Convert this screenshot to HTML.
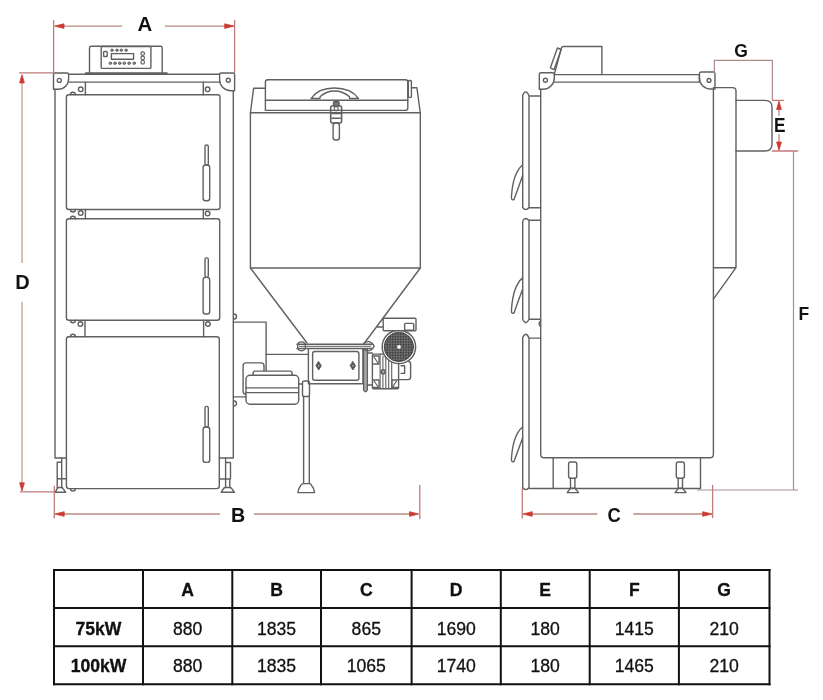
<!DOCTYPE html>
<html><head><meta charset="utf-8">
<style>
html,body{margin:0;padding:0;background:#fff;width:823px;height:700px;overflow:hidden}
svg{display:block;position:absolute;left:0;top:0;will-change:transform}
</style></head><body>
<svg width="823" height="700" viewBox="0 0 823 700">
<rect x="0" y="0" width="823" height="700" fill="#fff"/>

<!-- ================= FRONT VIEW BOILER ================= -->
<g fill="none" stroke="#606060" stroke-width="1.4" stroke-linejoin="round" stroke-linecap="round">
  <!-- control panel -->
  <path d="M89.5,72.5 V48 Q89.5,46.3 91.2,46.3 H160.5 Q162.2,46.3 162.2,48 V72.5"/>
  <rect x="101.2" y="46.5" width="49.7" height="21.9" rx="1"/>
  <rect x="103.6" y="51.5" width="3.6" height="5" rx="0.8"/>
  <rect x="111.4" y="53.6" width="22.2" height="5.7"/>
  <g stroke-width="0.9" fill="#8a8a8a">
  <circle cx="112" cy="50.2" r="1.2"/><circle cx="116.9" cy="50.2" r="1.2"/><circle cx="121.3" cy="50.2" r="1.2"/><circle cx="126.1" cy="50.2" r="1.2"/>
  <circle cx="110.4" cy="63.2" r="1.3"/><circle cx="115" cy="63.2" r="1.3"/><circle cx="119.7" cy="63.2" r="1.3"/><circle cx="124.3" cy="63.2" r="1.3"/><circle cx="129.1" cy="63.2" r="1.3"/><circle cx="134.2" cy="63.2" r="1.3"/>
  <circle cx="142.7" cy="53.6" r="1.8" fill="#fff" stroke-width="1.2"/><circle cx="142.7" cy="58" r="1.8" fill="#fff" stroke-width="1.2"/><circle cx="142.7" cy="62.3" r="1.8" fill="#fff" stroke-width="1.2"/>
  </g>
  <path d="M86,73.5 H166.6" stroke-width="2.4"/>

  <!-- top bar -->
  <path d="M68.6,74.3 H219.6 M68.6,82.1 H219.6"/>
  <!-- left bracket -->
  <path d="M53.5,89.3 V74.5 Q53.5,73 55,73 H67 Q68.6,73 68.6,74.5 V79 A10.3,10.3 0 0 1 58.3,89.3 Z"/>
  <circle cx="59.3" cy="80.4" r="2"/>
  <!-- right bracket -->
  <path d="M234.6,90.7 V74.5 Q234.6,73 233.1,73 H221.2 Q219.6,73 219.6,74.5 V79.5 A11.2,11.2 0 0 0 230.8,90.7 Z"/>
  <circle cx="228.3" cy="80.3" r="2"/>
  <!-- frame columns -->
  <path d="M55,89.3 V458 H66.4"/>
  <path d="M233.3,90.7 V458 H219.3"/>
  <!-- hinge blocks -->
  <path d="M85.4,82.1 V94.7 M203.3,82.1 V94.7"/>
  <circle cx="80.7" cy="89.3" r="2.3"/><circle cx="207.6" cy="89.3" r="2.3"/>
  <path d="M85.4,209.5 V218.8 M203.3,209.5 V218.8"/>
  <circle cx="80.7" cy="213" r="2.3"/><circle cx="207.6" cy="213.6" r="2.3"/>
  <path d="M85,320.3 V336.8 M203.6,320.3 V336.8"/>
  <circle cx="80.4" cy="324" r="2.3"/><circle cx="207.9" cy="324" r="2.3"/>
  <!-- hinge bumps -->
  <path d="M70.4,94.7 A2.5,2.5 0 0 1 75.4,94.7 M70.4,209.5 A2.5,2.5 0 0 0 75.4,209.5 M70.4,218.8 A2.5,2.5 0 0 1 75.4,218.8 M70.4,320.3 A2.5,2.5 0 0 0 75.4,320.3 M70.4,336.8 A2.5,2.5 0 0 1 75.4,336.8 M70.4,488.6 A2.5,2.5 0 0 0 75.4,488.6"/>
  <!-- doors -->
  <rect x="66.4" y="94.7" width="153.6" height="114.8" rx="2.5"/>
  <rect x="66.4" y="218.8" width="153.3" height="101.5" rx="2.5"/>
  <rect x="66.4" y="336.8" width="152.9" height="151.8" rx="2.5"/>
  <!-- handles -->
  <rect x="205" y="145" width="3.3" height="20" rx="1.6"/>
  <rect x="203.1" y="165" width="6.6" height="35.7" rx="2.5"/>
  <rect x="205" y="257.9" width="3.3" height="19.5" rx="1.6"/>
  <rect x="203.1" y="277.4" width="6.6" height="36.6" rx="2.5"/>
  <rect x="205" y="406.4" width="3.3" height="20.6" rx="1.6"/>
  <rect x="203.1" y="427" width="6.6" height="35.4" rx="2.5"/>
  <!-- feet -->
  <path d="M61.7,458 V487.5 M57.2,487.5 V462.3 H61.7 M57.2,478.8 H66.2"/>
  <path d="M55.2,492.3 L57.3,488.3 Q57.8,487.5 58.6,487.5 H61.5 Q62.4,487.5 62.9,488.3 L65.8,492.3 Z"/>
  <path d="M225.6,458 V487.5 M229.8,479 V487.5 M225.6,462.5 H230.5 V478 M219.5,479 H230.5"/>
  <path d="M221.1,492.3 L223.6,488.5 Q224.3,487.5 225.5,487.5 H229.8 Q231,487.5 231.7,488.5 L234.5,492.3 Z"/>
</g>

<!-- ================= HOPPER ================= -->
<g fill="none" stroke="#606060" stroke-width="1.4" stroke-linejoin="round" stroke-linecap="round">
  <path d="M265.4,88.3 H253.6 L250.4,113 V268 L307,343 M412.3,87.7 H416.9 Q418.5,100 420.3,113 V268 L364.5,343"/>
  <path d="M250.4,112.8 H420.3 M250.4,268 H420.3"/>
  <path d="M265.4,110.4 V82 Q265.4,79.7 267.7,79.7 H405.5 Q407.8,79.7 407.8,82 V108 Q407.8,110.4 405.5,110.4 H265.4" />
  <path d="M265.4,100.2 H407.8"/>
  <rect x="408.3" y="80.5" width="3.1" height="16.9" rx="1"/>
  <!-- handle arch -->
  <path d="M311,98.5 Q318,88 334.5,88 Q351,88 358.5,98.5 H349.5 V96.8 Q343,91 334.5,91 Q326,91 320,96.8 V98.5 Z" stroke-width="1.3"/>
  <!-- latch -->
  <rect x="333.5" y="101.8" width="5.6" height="4" rx="0.8" fill="#777"/>
  <path d="M332,106 H340.4 Q341.6,106 341.6,108 V121 Q341.6,123 340,123 H332.3 Q330.7,123 330.7,121 V108 Q330.7,106 332,106 Z" stroke-width="1.6"/>
  <circle cx="336.2" cy="108.8" r="2" stroke-width="1.1"/>
  <path d="M332,113.6 H340.3 M332,118.3 H340.3" stroke-width="1.4"/>
  <rect x="333.1" y="123" width="6.3" height="17" rx="2.5"/>
</g>

<!-- ================= FEEDER ================= -->
<defs>
  <pattern id="mesh" x="0" y="0" width="1.6" height="1.6" patternUnits="userSpaceOnUse">
    <rect x="0" y="0" width="1.6" height="1.6" fill="#808080"/>
    <rect x="0" y="0" width="1.1" height="1.1" fill="#333"/>
  </pattern>
</defs>
<g fill="none" stroke="#606060" stroke-width="1.4" stroke-linejoin="round" stroke-linecap="round">
  <path d="M233.3,322.1 H266.1 V371.4"/>
  <path d="M266.1,354.4 H308.4"/>
  <path d="M234,314 a2.4,2.4 0 0 1 0,5 M234,401 a2.4,2.4 0 0 1 0,5"/>
  <!-- housing -->
  <path d="M308.4,348.6 V383.8 H362.9 V348.6"/>
  <rect x="312.6" y="351.5" width="46.3" height="28.8" rx="2.2"/>
  <path d="M318.7,361.6 L321.3,365.8 L318.7,370 L316.1,365.8 Z M352.9,361.6 L355.5,365.8 L352.9,370 L350.3,365.8 Z" fill="#555" stroke-width="1"/>
  <circle cx="318.7" cy="365.8" r="0.8" fill="#ccc" stroke="none"/>
  <circle cx="352.9" cy="365.8" r="0.8" fill="#ccc" stroke="none"/>
  <!-- vertical flange rod -->
  <path d="M363.6,349 V390 Q365.5,393.5 367.4,390 V349" fill="#a8a8a8" stroke-width="1.3"/>
  <path d="M367.2,353 H372.4 M367.2,385 H372.4"/>
  <!-- pipe -->
  <path d="M297,344.2 H372 M297,348.5 H372" stroke-width="1.6"/>
  <path d="M299,346.3 H371" stroke-width="1"/>
  <path d="M297.5,346.3 Q297.5,341.8 301.5,341.8 Q305.5,341.8 305.5,346.3 Q305.5,350.8 301.5,350.8 Q297.5,350.8 297.5,346.3 Z" stroke-width="1.3"/>
  <path d="M363.5,343.5 Q366,341.5 369,341.7 Q372.5,342.5 374.3,346.3 Q372.5,350 369,350.8 Q366,351 363.5,349" stroke-width="1.3"/>
  <!-- gearbox -->
  <rect x="372.4" y="354.1" width="26.2" height="34.7" rx="1"/>
  <path d="M380.1,354.1 V388.8 M382.9,356 V388.8 M385.8,356 V388.8 M388.7,356 V388.8 M391.7,356 V388.8" stroke-width="1.1"/>
  <path d="M373.5,356 H379 V364 H373.5 M373.5,387.5 H379 V380 H373.5 M397.5,387.5 H392 V380 H397.5" stroke-width="1.3"/>
  <path d="M374,357 L378,363 M374,381 L378,386.5 M396.5,381 L393,386.5" stroke-width="1.2"/>
  <circle cx="383.1" cy="371.7" r="2" stroke-width="1.6"/>
  <path d="M398.6,361.4 H408 Q410.6,361.4 410.6,364 V377 Q410.6,379.6 408,379.6 H398.6" />
  <path d="M401.1,365.7 H404.6 V373.4 H401.1"/>
  <!-- motor fan -->
  <circle cx="398.9" cy="346.9" r="16.7" fill="#fff" stroke-width="1.5"/>
  <circle cx="398.9" cy="346.9" r="14.7" fill="url(#mesh)" stroke="#3a3a3a" stroke-width="0.8"/>
  <circle cx="399" cy="346.9" r="1.9" fill="#fff" stroke="none"/>
  <!-- terminal box -->
  <path d="M377.5,327 H383.2"/>
  <rect x="383.2" y="318.2" width="32.8" height="12.5" rx="1" fill="#fff"/>
  <rect x="404.6" y="323.4" width="9.1" height="6.9" rx="1"/>
  <!-- left motor -->
  <rect x="243.1" y="362.9" width="20.9" height="31.4" rx="3"/>
  <rect x="253.1" y="371.1" width="39" height="5" rx="2" fill="#fff"/>
  <rect x="246" y="375.3" width="52.7" height="29" rx="4" fill="#fff"/>
  <path d="M246,387.9 H298.7 M246,392.6 H298.7"/>
  <path d="M233.3,396.9 H246"/>
  <path d="M298.7,384 H302.5"/>
  <rect x="302.5" y="381" width="7" height="15.5" rx="1.8"/>
  <!-- leg -->
  <path d="M303.6,396.5 V483.6 M309.3,396.5 V483.6"/>
  <path d="M297.9,492.6 Q298.5,488 300.7,485.5 Q301.5,483.6 303.6,483.6 H309.3 Q311,483.6 311.6,485.5 Q314,488 314.6,492.6 Z"/>
</g>

<!-- ================= SIDE VIEW ================= -->
<g fill="none" stroke="#606060" stroke-width="1.4" stroke-linejoin="round" stroke-linecap="round">
  <!-- controller -->
  <path d="M554.4,74 L561.5,47.6 Q562,46.5 563.5,46.5 H601.9 V74.6"/>
  <path d="M557.4,48 L561.2,49.5 L554.1,69.6 L550.4,67.8 Z"/>
  <!-- top bar -->
  <path d="M554.3,74.6 H699.4 M554.3,82.1 H699.4 M699.4,74.6 V82.1"/>
  <!-- brackets -->
  <path d="M539.3,89.3 V74.5 Q539.3,72.8 541,72.8 H552.6 Q554.3,72.8 554.3,74.5 V78 A11.3,11.3 0 0 1 543,89.3 Z"/>
  <circle cx="545.4" cy="80.3" r="2"/>
  <path d="M715,89 V73.8 Q715,72 713.2,72 H701 Q699.4,72 699.4,73.8 V78 A11,11 0 0 0 710.4,89 Z"/>
  <circle cx="709" cy="80.4" r="1.9"/>
  <!-- body -->
  <path d="M540.7,89.3 V454.3 Q540.7,457.8 544.2,457.8 H709.9 Q713.4,457.8 713.4,454.3 V89"/>
  <!-- right panel -->
  <path d="M713.4,87.6 H732.5 Q736,87.6 736,91 V267.7 H713.4 M736,267.7 L713.4,299.2"/>
  <!-- flue -->
  <path d="M736,100.4 H765 Q772,100.4 772,107.4 V144 Q772,151 765,151 H736"/>
  <!-- base -->
  <path d="M553.2,457.8 V488.5 M700.5,457.8 V488.5 M529.3,488.5 H700.5"/>
  <rect x="568.6" y="462" width="8.2" height="16.3" rx="2"/>
  <path d="M570.5,478.3 V488 M574.9,478.3 V488"/>
  <path d="M567.2,492.6 L570.5,488.3 H574.9 L578.6,492.6 Z"/>
  <rect x="676.3" y="462" width="8.1" height="16.3" rx="2"/>
  <path d="M678.2,478.3 V488 M682.5,478.3 V488"/>
  <path d="M675.1,492.6 L678.2,488.3 H682.5 L686.1,492.6 Z"/>
  <!-- doors -->
  <path d="M522.7,207.5 V95.5 Q524,92 525.8,91.9 Q527.6,92 529,96 V207.5 Q527.6,209.5 525.8,209.6 Q524,209.5 522.7,207.5 M529,96 H540.6 M529,207.7 H540.6"/>
  <path d="M522.7,319.3 V221 Q524,218.7 525.8,218.5 Q527.6,218.7 529,220.5 V319.3 Q527.6,322.5 525.8,322.7 Q524,322.5 522.7,319.3 M529,220.2 H540.6 M529,319.3 H540.6"/>
  <path d="M522.7,487.5 V337.5 Q524,334.5 525.8,334.3 Q527.6,334.5 529,338 V487.5 Q527.6,489.5 525.8,489.6 Q524,489.5 522.7,487.5 M529,338.1 H540.6"/>
  <path d="M540.6,320.8 Q537.6,323.6 540.6,326.6"/>
  <!-- handles -->
  <path d="M522.6,165 Q513,173 511.5,196 Q511,201 514,199.5 Q517.5,190 522.6,175.7"/>
  <path d="M522.6,277.9 Q513,286 511.5,309.5 Q511,314.5 514,313 Q517.5,303 522.6,289.3"/>
  <path d="M522.6,427 Q513,435 511.5,458 Q511,463 514,461.5 Q517.5,452 522.6,438"/>
</g>

<!-- ================= DIMENSIONS ================= -->
<g fill="none" stroke="#bf7c7c" stroke-width="1.3">
  <!-- extension lines -->
  <path d="M53.6,20 V73 M234.6,20 V73"/>
  <path d="M19.1,72.9 H54 M20,491.9 H54"/>
  <path d="M54.3,485.7 V518.6 M419.8,485 V519.3"/>
  <path d="M522.3,487.8 V518.6 M712.6,485 V518"/>
  <path d="M714.4,73 V60.3 H772.4 V100.4" stroke="#ae8c8c" stroke-width="1.2"/>
  <path d="M772,100.4 H784 M772,151 H798" stroke="#c87878"/>
  <path d="M793.5,151 V490 M697,490 H798" stroke="#ae8c8c" stroke-width="1.2"/>
</g>
<g fill="none" stroke="#bc8a80" stroke-width="1.3">
  <path d="M60,26.1 H122.2 M164.8,26.1 H228"/>
  <path d="M22,80 V262.9 M22,301.7 V485" stroke="#c4a08c"/>
  <path d="M60,514 H219.9 M253.9,514 H412"/>
  <path d="M528,514 H597.3 M633.4,514 H706"/>
  <path d="M779,107 V115.8 M779,134 V144"/>
</g>
<g fill="#cc3a32" stroke="#cc3a32" stroke-width="0.8" stroke-linejoin="round">
  <path d="M54.7,26.1 L64,23.8 V28.4 Z M234,26.1 L224.7,23.8 V28.4 Z"/>
  <path d="M22,74.7 L19.6,82.9 H24.4 Z M22,491 L19.6,482.8 H24.4 Z"/>
  <path d="M54.9,514 L64.2,511.7 V516.3 Z M418.6,514 L409.6,511.7 V516.3 Z"/>
  <path d="M522.9,514 L532.2,511.7 V516.3 Z M712,514 L702.7,511.7 V516.3 Z"/>
  <path d="M779,101.2 L776.6,109.5 H781.4 Z M779,150.2 L776.6,142 H781.4 Z"/>
</g>
<g font-family="Liberation Sans, sans-serif" font-weight="bold" fill="#111" text-anchor="middle">
  <text x="144.8" y="30.5" font-size="20.4">A</text>
  <text x="22.5" y="288.6" font-size="20">D</text>
  <text x="238" y="521.6" font-size="19.7">B</text>
  <text x="614.2" y="521.6" font-size="20" transform="translate(614.2,0) scale(0.92,1) translate(-614.2,0)">C</text>
  <text x="741" y="56.8" font-size="17.5">G</text>
  <text x="779.9" y="132.3" font-size="20.1" transform="translate(779.9,0) scale(0.86,1) translate(-779.9,0)">E</text>
  <text x="803.9" y="320.4" font-size="17.5">F</text>
</g>

<!-- ================= TABLE ================= -->
<g stroke="#111" stroke-width="2" fill="none">
  <path d="M53,570 H770.5 M53,608 H770.5 M53,646.3 H770.5 M53,684.2 H770.5"/>
  <path d="M54,569 V685.2 M143,569 V685.2 M232.3,569 V685.2 M321,569 V685.2 M411.6,569 V685.2 M500.8,569 V685.2 M589.7,569 V685.2 M678.9,569 V685.2 M769.5,569 V685.2"/>
</g>
<g font-family="Liberation Sans, sans-serif" fill="#111" stroke="#111" stroke-width="0.3" text-anchor="middle" font-size="17.6">
  <g font-weight="bold">
  <text x="187.6" y="596.2">A</text><text x="276.6" y="596.2">B</text><text x="366.3" y="596.2">C</text><text x="456.2" y="596.2">D</text><text x="545.2" y="596.2">E</text><text x="634.3" y="596.2">F</text><text x="724.2" y="596.2">G</text>
  <text x="98.5" y="634.5">75kW</text><text x="98.5" y="672.2">100kW</text>
  </g>
  <text x="187.6" y="634.5">880</text><text x="276.6" y="634.5">1835</text><text x="366.3" y="634.5">865</text><text x="456.2" y="634.5">1690</text><text x="545.2" y="634.5">180</text><text x="634.3" y="634.5">1415</text><text x="724.2" y="634.5">210</text>
  <text x="187.6" y="672.2">880</text><text x="276.6" y="672.2">1835</text><text x="366.3" y="672.2">1065</text><text x="456.2" y="672.2">1740</text><text x="545.2" y="672.2">180</text><text x="634.3" y="672.2">1465</text><text x="724.2" y="672.2">210</text>
</g>

</svg>
</body></html>
